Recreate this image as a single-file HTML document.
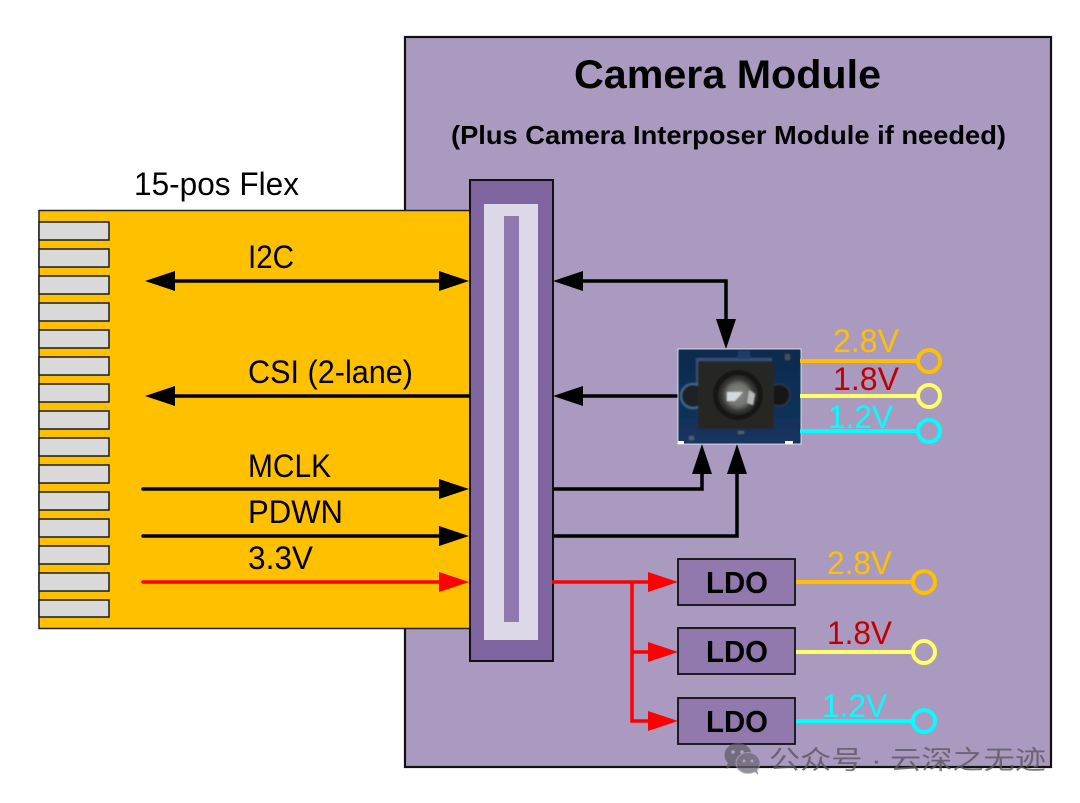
<!DOCTYPE html>
<html>
<head>
<meta charset="utf-8">
<style>
html,body{margin:0;padding:0;background:#fff;width:1080px;height:803px;overflow:hidden}
svg{display:block}
text{font-family:"Liberation Sans","Noto Sans CJK SC",sans-serif}
</style>
</head>
<body>
<svg width="1080" height="803" viewBox="0 0 1080 803" xmlns="http://www.w3.org/2000/svg">
<defs>
<linearGradient id="bd" x1="0" y1="0" x2="0" y2="1"><stop offset="0" stop-color="#0f2a4e"/><stop offset="1" stop-color="#12345f"/></linearGradient>
<radialGradient id="lens"><stop offset="0" stop-color="#8c8c8a"/><stop offset=".55" stop-color="#70726f"/><stop offset=".8" stop-color="#383836"/><stop offset="1" stop-color="#242422"/></radialGradient>
<filter id="bl" x="-5%" y="-5%" width="110%" height="110%"><feGaussianBlur stdDeviation="0.9"/></filter>
</defs>
<rect x="405" y="37" width="646" height="730" fill="#AA9ABF" stroke="#111" stroke-width="2.2"/>
<rect x="39" y="210.500" width="431" height="418" fill="#FFC000" stroke="#222" stroke-width="1.500"/>
<g fill="#D9D9D9" stroke="#1a1a1a" stroke-width="1.500">
<rect x="39" y="222" width="70" height="18"/><rect x="39" y="249" width="70" height="18"/><rect x="39" y="276" width="70" height="18"/><rect x="39" y="303" width="70" height="18"/><rect x="39" y="330" width="70" height="18"/><rect x="39" y="357" width="70" height="18"/><rect x="39" y="384" width="70" height="18"/><rect x="39" y="411" width="70" height="18"/><rect x="39" y="438" width="70" height="18"/><rect x="39" y="465" width="70" height="18"/><rect x="39" y="492" width="70" height="18"/><rect x="39" y="519" width="70" height="18"/><rect x="39" y="546" width="70" height="18"/><rect x="39" y="573" width="70" height="18"/><rect x="39" y="600" width="70" height="17"/>
</g>
<rect x="470" y="180" width="83" height="481" fill="#7F65A0" stroke="#111" stroke-width="2"/>
<rect x="484" y="204" width="54" height="436" fill="#DDD8E7"/>
<rect x="504" y="216" width="15" height="406" fill="#9178AD"/>

<g fill="none" stroke="#000" stroke-width="3.500">
<path d="M170 281H445"/><path d="M170 396H470"/><path d="M143 489H445" stroke-linecap="round"/><path d="M143 536H445" stroke-linecap="round"/>
<path d="M578 281H726V325"/><path d="M678 396H578"/><path d="M553 489H702V468"/><path d="M553 536H737V468"/>
</g>
<g fill="#000">
<path d="M145 281L175 271V291Z"/><path d="M469 281L439 271V291Z"/><path d="M145 396L175 386V406Z"/>
<path d="M469 489L439 479V499Z"/><path d="M469 536L439 526V546Z"/>
<path d="M553 281L583 271V291Z"/><path d="M553 396L583 386V406Z"/>
<path d="M726 349L716 319H736Z"/><path d="M702 444L692 474H712Z"/><path d="M737 444L727 474H747Z"/>
</g>
<g fill="none" stroke="#FF0000" stroke-width="3.500">
<path d="M143 582H445" stroke-linecap="round"/>
<path d="M552 582H655"/><path d="M632 582V721H655"/><path d="M632 652H655"/>
</g>
<g fill="#FF0000">
<path d="M469 582L439 572V592Z"/><path d="M678 582L648 572V592Z"/><path d="M678 652L648 642V662Z"/><path d="M678 721L648 711V731Z"/>
</g>

<rect x="678" y="349" width="123" height="95" fill="#12335c" stroke="#e8e8ee" stroke-width="1"/>
<g filter="url(#bl)">
<rect x="679" y="350" width="121" height="93" fill="url(#bd)"/>
<rect x="696" y="358" width="76" height="3" fill="#3a4f70"/>
<rect x="696" y="358" width="3" height="28" fill="#3a4f70"/>
<rect x="738" y="351" width="12" height="8" fill="#1d3f68"/>
<circle cx="693" cy="396" r="12" fill="#1c2126" stroke="#47688e" stroke-width="2"/>
<circle cx="779" cy="395" r="11" fill="#161614" stroke="#2b3440" stroke-width="2"/>
<rect x="698" y="362" width="76" height="67" fill="#262624"/>
<circle cx="738" cy="395" r="25" fill="#171715"/>
<circle cx="738" cy="395" r="20" fill="url(#lens)"/>
<path d="M727 392h16l-8 9h-8z" fill="#d4d9dc"/>
<path d="M749 390l6 4-2 11-6-2z" fill="#b4b8b8"/>
<rect x="690" y="457" width="0" height="0"/>
<rect x="689" y="436" width="5" height="4" fill="#56606a"/><rect x="785" y="354" width="5" height="6" fill="#4a4f52"/>
<rect x="738" y="431" width="6" height="3" fill="#56606a"/>
</g>
<rect x="678" y="441" width="6" height="3" fill="#fff"/><rect x="785" y="441" width="8" height="3" fill="#fff"/>

<g fill="none" stroke-width="4">
<g stroke="#FFC000"><path d="M800 361H917"/><circle cx="929" cy="361" r="11"/><path d="M795 582H913"/><circle cx="924" cy="582" r="11"/></g>
<g stroke="#FFFF66"><path d="M800 396H917"/><circle cx="929" cy="396" r="11"/><path d="M795 652H913"/><circle cx="924" cy="652" r="11"/></g>
<g stroke="#00FFFF"><path d="M800 431H917"/><circle cx="929" cy="431" r="11"/><path d="M795 721H913"/><circle cx="924" cy="721" r="11"/></g>
</g>

<g fill="#9178AD" stroke="#111" stroke-width="1.800">
<rect x="678" y="559" width="117" height="46"/><rect x="678" y="628" width="117" height="46"/><rect x="678" y="698" width="117" height="46"/>
</g>

<g font-size="32" fill="#000">
<text x="134" y="195" textLength="165" lengthAdjust="spacingAndGlyphs">15-pos Flex</text>
<text x="248" y="268" textLength="46" lengthAdjust="spacingAndGlyphs">I2C</text>
<text x="248" y="383" textLength="165" lengthAdjust="spacingAndGlyphs">CSI (2-lane)</text>
<text x="248" y="477" textLength="83" lengthAdjust="spacingAndGlyphs">MCLK</text>
<text x="248" y="523" textLength="95" lengthAdjust="spacingAndGlyphs">PDWN</text>
<text x="248" y="569" textLength="65" lengthAdjust="spacingAndGlyphs">3.3V</text>
</g>
<g font-size="32">
<text x="833" y="352" fill="#FFC000" textLength="66" lengthAdjust="spacingAndGlyphs">2.8V</text>
<text x="833" y="390" fill="#C00000" textLength="66" lengthAdjust="spacingAndGlyphs">1.8V</text>
<text x="828" y="428" fill="#00FFFF" textLength="65" lengthAdjust="spacingAndGlyphs">1.2V</text>
<text x="827" y="574" fill="#FFC000" textLength="65" lengthAdjust="spacingAndGlyphs">2.8V</text>
<text x="827" y="644" fill="#C00000" textLength="65" lengthAdjust="spacingAndGlyphs">1.8V</text>
<text x="822" y="717" fill="#00FFFF" textLength="65" lengthAdjust="spacingAndGlyphs">1.2V</text>
</g>
<g font-weight="700" fill="#000">
<text x="574" y="88" font-size="40" textLength="307" lengthAdjust="spacingAndGlyphs">Camera Module</text>
<text x="451" y="144" font-size="26" textLength="555" lengthAdjust="spacingAndGlyphs">(Plus Camera Interposer Module if needed)</text>
<text x="706" y="593" font-size="31" textLength="62" lengthAdjust="spacingAndGlyphs">LDO</text>
<text x="706" y="662" font-size="31" textLength="62" lengthAdjust="spacingAndGlyphs">LDO</text>
<text x="706" y="732" font-size="31" textLength="62" lengthAdjust="spacingAndGlyphs">LDO</text>
</g>

<g opacity=".72">
<ellipse cx="738" cy="755" rx="13.500" ry="12" fill="#5e5a68"/>
<path d="M728 762l-2 7 8-4z" fill="#5e5a68"/>
<ellipse cx="748" cy="763" rx="12" ry="10.500" fill="#6a6672" stroke="#a596b9" stroke-width="1"/>
<path d="M754 771l4 4-1-7z" fill="#6a6672"/>
<circle cx="733" cy="752" r="1.800" fill="#b0a4c0"/><circle cx="742" cy="752" r="1.800" fill="#b0a4c0"/>
<circle cx="744" cy="761" r="1.500" fill="#b0a4c0"/><circle cx="752" cy="761" r="1.500" fill="#b0a4c0"/>
</g>
<text x="769" y="769" font-size="26" fill="#5a5660" fill-opacity=".8" textLength="277" lengthAdjust="spacingAndGlyphs">公众号 · 云深之无迹</text>
</svg>
</body>
</html>
